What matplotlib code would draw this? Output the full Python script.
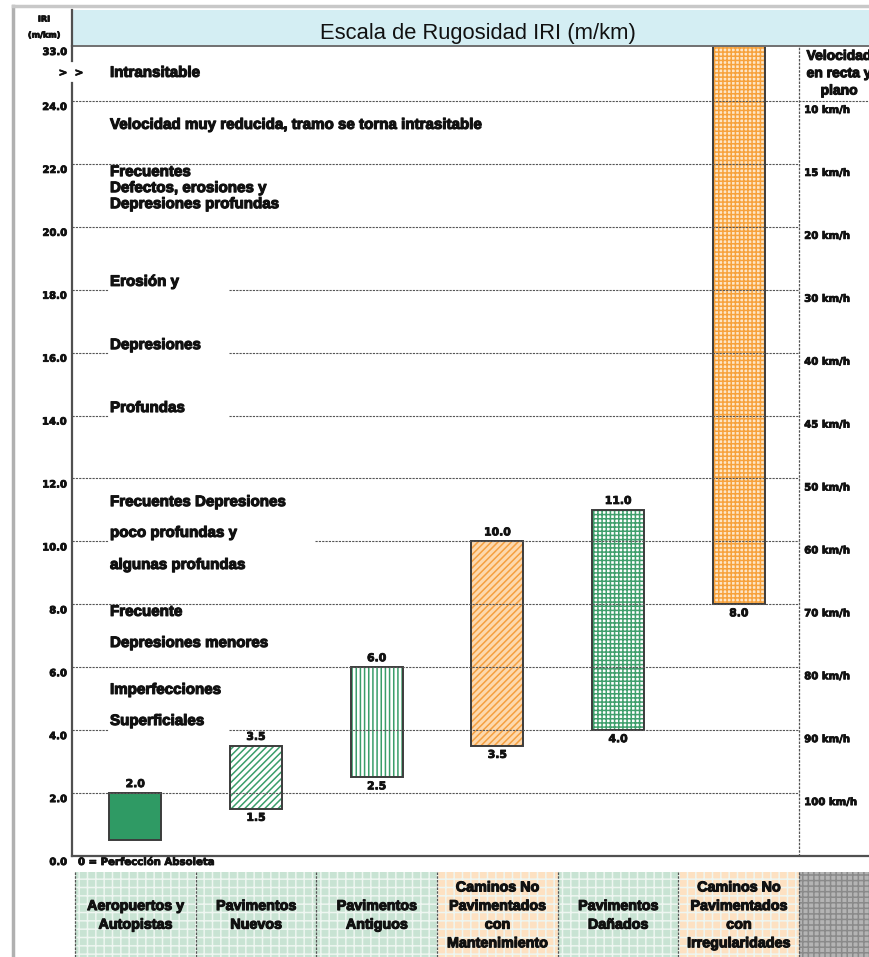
import numpy as np
import matplotlib
matplotlib.use("Agg")
import matplotlib.pyplot as plt
import matplotlib.patheffects as pe
from matplotlib.patches import Rectangle
from matplotlib.lines import Line2D
from matplotlib.transforms import offset_copy

# ---------------- data ----------------
categories = ["Aeropuertos y\nAutopistas", "Pavimentos\nNuevos", "Pavimentos\nAntiguos",
              "Caminos No\nPavimentados\ncon\nMantenimiento", "Pavimentos\nDañados",
              "Caminos No\nPavimentados\ncon\nIrregularidades"]
iri_low = [0.5, 1.5, 2.5, 3.5, 4.0, 8.0]
iri_high = [2.0, 3.5, 6.0, 10.0, 11.0, 33.0]
show_low = [False, True, True, True, True, True]
show_high = [True, True, True, True, True, False]
cat_group = ["g", "g", "g", "o", "g", "o"]

y_ticks = [0, 2, 4, 6, 8, 10, 12, 14, 16, 18, 20, 22, 24, 33]
y_tick_labels = ["0.0", "2.0", "4.0", "6.0", "8.0", "10.0", "12.0", "14.0", "16.0",
                 "18.0", "20.0", "22.0", "24.0", "33.0"]

speed_levels = [24, 22, 20, 18, 16, 14, 12, 10, 8, 6, 4, 2]
speed_labels = ["10 km/h", "15 km/h", "20 km/h", "30 km/h", "40 km/h", "45 km/h",
                "50 km/h", "60 km/h", "70 km/h", "80 km/h", "90 km/h", "100 km/h"]

descr_texts = ["Intransitable", "Velocidad muy reducida, tramo se torna intrasitable",
               "Frecuentes", "Defectos, erosiones y", "Depresiones profundas",
               "Erosión y", "Depresiones", "Profundas",
               "Frecuentes Depresiones", "poco profundas y", "algunas profundas",
               "Frecuente", "Depresiones menores", "Imperfecciones", "Superficiales"]
descr_levels = [28.6, 23.24, 21.74, 21.23, 20.72, 18.25, 16.24, 14.24,
                11.25, 10.27, 9.25, 7.76, 6.77, 5.28, 4.29]

# ---------------- scale (broken axis above 24) ----------------
K = 0.1942


def fwd(v):
    v = np.asarray(v, dtype=float)
    return np.where(v <= 24, v, 24 + (v - 24) * K)


def inv(u):
    u = np.asarray(u, dtype=float)
    return np.where(u <= 24, u, 24 + (u - 24) / K)


W, H = 870, 957
fig = plt.figure(figsize=(W / 100, H / 100), dpi=100)
plt.rcParams["hatch.linewidth"] = 1.1

STK = [pe.withStroke(linewidth=0.8, foreground="#111111")]
STK_S = [pe.withStroke(linewidth=0.6, foreground="#111111")]
BOLD = dict(family=["Liberation Sans", "DejaVu Sans"], fontweight="bold",
            color="#111111", path_effects=STK)
SMALL = dict(family=["DejaVu Sans"], fontweight="bold", color="#111111",
             path_effects=STK_S)

x0px, x1px = 72, 870
xmin = (x0px - 75) / 120.7
xmax = (x1px - 75) / 120.7

ax = fig.add_axes([x0px / W, 1 - 856 / H, 1 - x0px / W, (856 - 46) / H])
ax.set_yscale("function", functions=(fwd, inv))
ax.set_ylim(0, 33)
ax.set_xlim(xmin, xmax)
ax.set_xticks([])
ax.set_yticks([])
ax.yaxis.set_minor_locator(matplotlib.ticker.NullLocator())
for s in ["top", "right", "left"]:
    ax.spines[s].set_visible(False)
ax.spines["bottom"].set_color("#505050")
ax.spines["bottom"].set_linewidth(1.6)

# left axis with break
ytr = ax.get_yaxis_transform()
ax.plot([0, 0], [0, 26.9], color="#505050", lw=1.6, transform=ytr, clip_on=False, zorder=5)
ax.plot([0, 0], [30.5, 33], color="#505050", lw=1.6, transform=ytr, clip_on=False, zorder=5)
brk = offset_copy(ytr, fig=fig, x=-9, y=0, units="dots")
ax.text(0, 28.6, ">", transform=brk, ha="center", va="center", fontsize=7.5, **SMALL)
brk2 = offset_copy(ytr, fig=fig, x=7, y=0, units="dots")
ax.text(0, 28.6, ">", transform=brk2, ha="center", va="center", fontsize=7.5, **SMALL)

# y tick labels
tl = offset_copy(ytr, fig=fig, x=-5, y=-6, units="dots")
for v, lab in zip(y_ticks, y_tick_labels):
    ax.text(0, v, lab, transform=tl, ha="right", va="center", fontsize=7.2, **SMALL)
tl2 = offset_copy(ytr, fig=fig, x=6, y=-6, units="dots")
ax.text(0, 0, "0 = Perfección Absoleta", transform=tl2, ha="left", va="center",
        fontsize=7.3, **SMALL)

# gridlines (dashed), some with gaps for the text
dash = dict(color="#555555", lw=0.8, linestyle=(0, (2.0, 1.0)), zorder=4)
gap_a = (0.273, 1.276)
gap_b = (0.273, 1.988)
for v in speed_levels:
    if v in (18, 16, 14, 4):
        segs = [(xmin, gap_a[0]), (gap_a[1], 6.0)]
    elif v == 10:
        segs = [(xmin, gap_b[0]), (gap_b[1], 6.0)]
    elif v == 24:
        segs = [(xmin, xmax)]
    else:
        segs = [(xmin, 6.0)]
    for a, b in segs:
        ax.plot([a, b], [v, v], **dash)
ax.plot([6.0, 6.0], [0, 33], color="#555555", lw=0.9, linestyle=(0, (2.0, 1.0)), zorder=4)

# bars
hatches = ["", "/////", "||||", "/////", "++++", "++++"]
faces = ["#2f9a64", "white", "white", "#fdd9ae", "white", "#fde6c8"]
hcols = ["#2f9a64", "#3a9e6a", "#3a9e6a", "#f5a040", "#3f9f6c", "#f7a23c"]
bw = 0.43
xs = np.arange(len(categories)) + 0.5
up = offset_copy(ax.transData, fig=fig, x=0, y=9, units="dots")
dn = offset_copy(ax.transData, fig=fig, x=0, y=-9, units="dots")
for i in range(len(categories)):
    b = iri_low[i]
    h = iri_high[i] - iri_low[i]
    ax.bar(xs[i], h, bottom=b, width=bw, color=faces[i], edgecolor=hcols[i],
           linewidth=0, hatch=hatches[i] if hatches[i] else None, zorder=2)
    ax.bar(xs[i], h, bottom=b, width=bw, fill=False, edgecolor="#3c3c3c",
           linewidth=1.4, zorder=3)
    if show_high[i]:
        ax.text(xs[i], iri_high[i], f"{iri_high[i]:.1f}", transform=up, ha="center",
                va="center", fontsize=7.8, **SMALL)
    if show_low[i]:
        ax.text(xs[i], iri_low[i], f"{iri_low[i]:.1f}", transform=dn, ha="center",
                va="center", fontsize=7.8, **SMALL)

# descriptive texts
for t, v in zip(descr_texts, descr_levels):
    ax.text(0.29, v, t, ha="left", va="center", fontsize=10.9, zorder=6, **BOLD)

# speed labels on the right
sp = offset_copy(ax.transData, fig=fig, x=5, y=-9, units="dots")
for v, lab in zip(speed_levels, speed_labels):
    ax.text(6.0, v, lab, transform=sp, ha="left", va="center", fontsize=7.3, **SMALL)
ax.text(6.33, 28.55, "Velocidad\nen recta y\nplano", ha="center", va="center",
        fontsize=10.0, linespacing=1.3, **BOLD)

# ---------------- header ----------------
fig.add_artist(Rectangle((x0px / W, 1 - 45 / H), 1 - x0px / W, 35 / H,
                         transform=fig.transFigure, facecolor="#d4eef3",
                         edgecolor="none", zorder=0))
fig.add_artist(Line2D([x0px / W, 1], [1 - 45.5 / H, 1 - 45.5 / H], transform=fig.transFigure,
                      color="#707070", lw=1.4))
fig.add_artist(Line2D([x0px / W, x0px / W], [1 - 10 / H, 1 - 46 / H], transform=fig.transFigure,
                      color="#505050", lw=1.6))
fig.text(478 / W, 1 - 33 / H, "Escala de Rugosidad IRI (m/km)", ha="center", va="center",
         fontsize=15.8, family=["Liberation Sans", "DejaVu Sans"], color="#111111")
fig.text(44 / W, 1 - 27 / H, "IRI\n(m/km)", ha="center", va="center", fontsize=5.8,
         linespacing=2.0, **SMALL)

# outer frame
fig.add_artist(Line2D([13 / W, 13 / W], [0, 1 - 6 / H], transform=fig.transFigure,
                      color="#b0b0b0", lw=2.5))
fig.add_artist(Line2D([13 / W, 1], [1 - 6 / H, 1 - 6 / H], transform=fig.transFigure,
                      color="#c8c8c8", lw=2.5))

# ---------------- category boxes ----------------
ax2 = fig.add_axes([x0px / W, 0, 1 - x0px / W, (957 - 872) / H])
ax2.set_xlim(xmin, xmax)
ax2.set_ylim(0, 1)
ax2.axis("off")
box_face = {"g": "#c8e3d3", "o": "#fde1c2"}
for i, c in enumerate(categories):
    ax2.add_patch(Rectangle((i, 0), 1, 1, facecolor=box_face[cat_group[i]],
                            edgecolor="#eef6f1", linewidth=0, hatch="++", zorder=1))
    ax2.text(i + 0.5, 0.49, c, ha="center", va="center", fontsize=10.3,
             linespacing=1.42, zorder=3, **BOLD)
ax2.add_patch(Rectangle((6, 0), xmax - 6, 1, facecolor="#b4b4b4",
                        edgecolor="#8a8a8a", linewidth=0, hatch="+++", zorder=1))
for b in range(0, 7):
    ax2.plot([b, b], [0, 1], color="#555555", lw=0.9, linestyle=(0, (2, 1)), zorder=2)

fig.savefig("out.png", dpi=100)
